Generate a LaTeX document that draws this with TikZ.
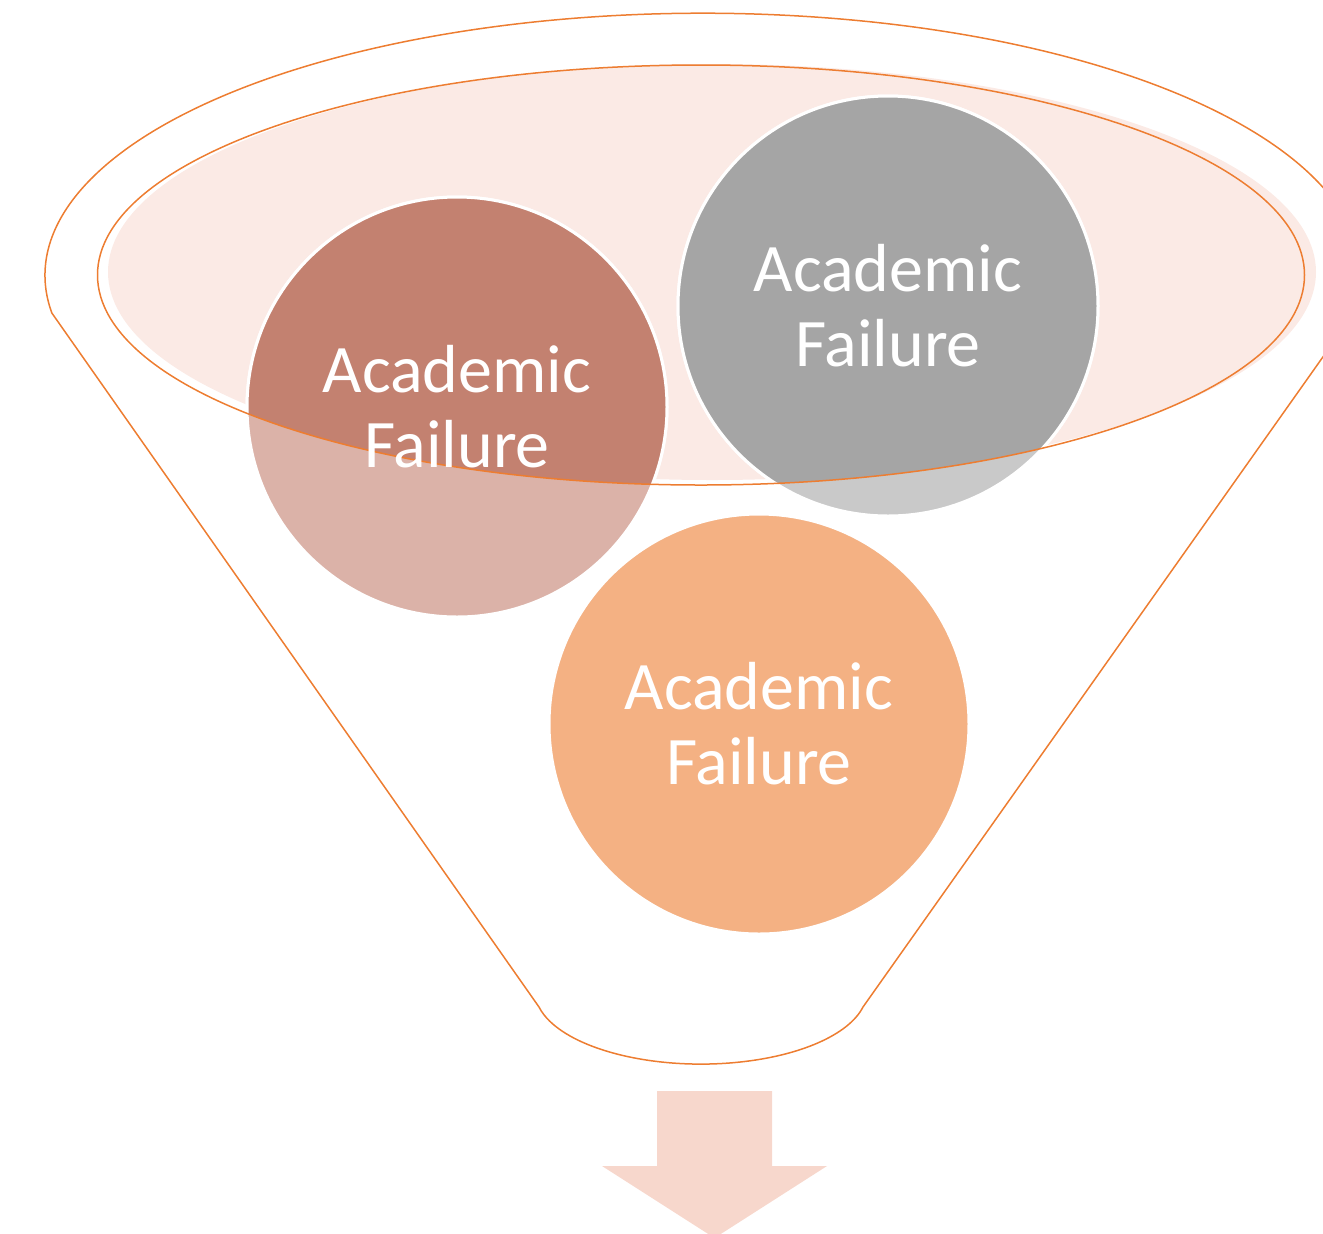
\documentclass[tikz,border=0pt]{standalone}
\usepackage{fontspec}
\setmainfont{Carlito}
\definecolor{funnelorange}{HTML}{ED7D31}
\definecolor{topfill}{HTML}{FBEAE5}
\definecolor{redDark}{HTML}{C38170}
\definecolor{redLight}{HTML}{DBB2A8}
\definecolor{grayDark}{HTML}{A5A5A5}
\definecolor{grayLight}{HTML}{C9C9C9}
\definecolor{orangeBall}{HTML}{F4B183}
\definecolor{arrowfill}{HTML}{F7D7CC}
\begin{document}
\begin{tikzpicture}[x=0.5pt,y=-0.5pt,
  funnelline/.style={draw=funnelorange,line width=0.75pt},
  ballring/.style={draw=white,line width=1.5pt},
  balltext/.style={circle,minimum size=210pt,inner sep=0pt,align=center,text=white,
    font=\fontsize{34pt}{37.5pt}\selectfont}]
\useasboundingbox (0,0) rectangle (1323,1233);
\clip (0,0) rectangle (1323,1233);
% ball centres
\coordinate (cR) at (457,407);
\coordinate (cG) at (888,306);
\coordinate (cO) at (759,724);
% outer funnel outline
\draw[funnelline] (539,1007) arc[start angle=167.4,end angle=12.6,x radius=166,y radius=73]
  -- (1354,313) arc[start angle=8.3,end angle=-188.3,x radius=658,y radius=262] -- cycle;
% top fill
\fill[topfill] (712,272) ellipse [x radius=604,y radius=208];
% light balls
\filldraw[fill=redLight,ballring] (cR) circle [radius=210];
\filldraw[fill=grayLight,ballring] (cG) circle [radius=210];
\filldraw[fill=orangeBall,ballring] (cO) circle [radius=210];
% dark parts inside the top ellipse
\begin{scope}
  \clip (701,275) ellipse [x radius=603.5,y radius=210];
  \filldraw[fill=redDark,ballring] (cR) circle [radius=210];
  \filldraw[fill=grayDark,ballring] (cG) circle [radius=210];
\end{scope}
% top ellipse outline
\draw[funnelline] (701,275) ellipse [x radius=603.5,y radius=210];
% labels
\node[balltext] (red) at (cR) {Academic\\Failure};
\node[balltext] (gray) at (cG) {Academic\\Failure};
\node[balltext] (orange) at (cO) {Academic\\Failure};
% arrow
\fill[arrowfill] (657,1091) -- (772,1091) -- (772,1166) -- (827,1166) -- (714.5,1238)
  -- (602,1166) -- (657,1166) -- cycle;
\end{tikzpicture}
\end{document}
